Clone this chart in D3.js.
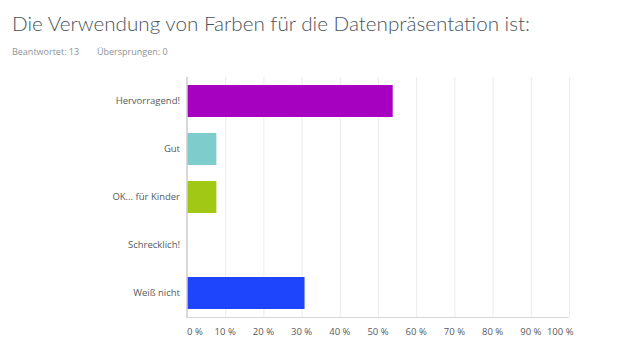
<!DOCTYPE html>
<html><head><meta charset="utf-8">
<script src="https://cdn.jsdelivr.net/npm/d3@7/dist/d3.min.js"></script>
<style>
body{margin:0;background:#fff;}
svg{display:block;font-family:"Open Sans","Lato",sans-serif;}
</style></head>
<body><svg id="c" width="619" height="358"></svg>
<script>
const categories = ["Hervorragend!", "Gut", "OK... für Kinder", "Schrecklich!", "Weiß nicht"];
const values = [53.85, 7.69, 7.69, 0, 30.77];
const barColors = ["#a600c1", "#7fcccd", "#a0c814", "#e05c2a", "#1f45fc"];
const ticks = [0,10,20,30,40,50,60,70,80,90,100];
const title = "Die Verwendung von Farben für die Datenpräsentation ist:";
const answered = "Beantwortet: 13";
const skipped = "Übersprungen: 0";

const svg = d3.select("#c");
const t = svg.append("text").attr("x",12).attr("y",31).attr("font-size",20.5).attr("font-weight",300)
  .style("font-family","Lato, 'Open Sans', sans-serif")
  .attr("fill","#4b545c").text(title);
// fit title to reference width
const tw = t.node().getComputedTextLength();
t.attr("textLength", 518).attr("lengthAdjust","spacingAndGlyphs");
svg.append("text").attr("x",12).attr("y",55).attr("font-size",9).attr("fill","#8c9399").text(answered);
svg.append("text").attr("x",97).attr("y",55).attr("font-size",9).attr("fill","#8c9399").text(skipped);

const x = d3.scaleLinear().domain([0,100]).range([187,569]);
const y = d3.scaleBand().domain(categories).range([77,317]).paddingInner(1/3).paddingOuter(1/6);

// grid
svg.append("g").selectAll("line").data(ticks.slice(1)).join("line")
  .attr("x1",d=>x(d)+0.5).attr("x2",d=>x(d)+0.5).attr("y1",77).attr("y2",317)
  .attr("stroke","#ececec").attr("stroke-width",1);
// bottom axis line
svg.append("line").attr("x1",187).attr("x2",569).attr("y1",317.5).attr("y2",317.5).attr("stroke","#d8d8d8");
// bars
svg.append("g").selectAll("rect").data(values).join("rect")
  .attr("x",x(0)).attr("y",(d,i)=>y(categories[i]))
  .attr("width",d=>x(d)-x(0)).attr("height",y.bandwidth())
  .attr("fill",(d,i)=>barColors[i]);
// left axis line
svg.append("line").attr("x1",187).attr("x2",187).attr("y1",77).attr("y2",318).attr("stroke","#cccccc").attr("stroke-width",1.5);
// category labels
svg.append("g").selectAll("text").data(categories).join("text")
  .attr("x",180).attr("y",d=>y(d)+y.bandwidth()/2).attr("dy","0.35em")
  .attr("text-anchor","end").attr("font-size",9.5).attr("fill","#555a5e").text(d=>d);
// tick labels
svg.append("g").selectAll("text").data(ticks).join("text")
  .attr("x",(d,i)=> i===0 ? x(d) : (i===ticks.length-1 ? x(d)+4.5 : x(d)))
  .attr("text-anchor",(d,i)=> i===0 ? "start" : (i===ticks.length-1 ? "end" : "middle"))
  .attr("y",334.5).attr("font-size",9.5).attr("fill","#555a5e").text(d=>d+" %");
</script></body></html>
